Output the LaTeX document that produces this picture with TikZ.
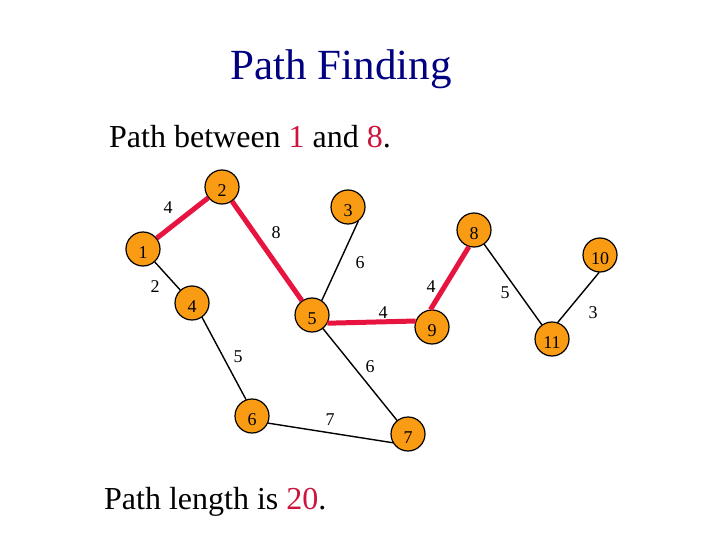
\documentclass[tikz,border=0pt]{standalone}
\usepackage{fontspec}
\setmainfont{Liberation Serif}
\definecolor{navyt}{RGB}{0,0,128}
\definecolor{redt}{RGB}{204,20,60}
\definecolor{rede}{RGB}{232,20,64}
\definecolor{orangen}{RGB}{250,155,20}
\tikzset{
  vert/.style={circle, draw=black, line width=1.2pt, fill=orangen, minimum size=34pt, inner sep=0pt, font=\fontsize{18}{18}\selectfont, outer sep=0.5pt, text height=19pt, text depth=0pt},
  edge/.style={draw=black, line width=1.4pt},
  pathedge/.style={draw=rede, line width=5pt},
  wlab/.style={font=\fontsize{18}{18}\selectfont, inner sep=0pt}
}
\begin{document}
\begin{tikzpicture}[x=1pt,y=-1pt]
\useasboundingbox (0,0) rectangle (720,540);
\fill[white] (0,0) rectangle (720,540);
\node[anchor=base, text=navyt, font=\fontsize{43}{43}\selectfont, inner sep=0pt] (title) at (341,80) {Path Finding};
\node[anchor=base west, font=\fontsize{32}{32}\selectfont, inner sep=0pt] (sub) at (109,148) {Path between \textcolor{redt}{1} and \textcolor{redt}{8}.};
\node[anchor=base west, font=\fontsize{32}{32}\selectfont, inner sep=0pt] (len) at (104,509) {Path length is \textcolor{redt}{20}.};

\node[vert] (n1) at (143,249) {1};
\node[vert] (n2) at (222,187) {2};
\node[vert] (n3) at (348,207) {3};
\node[vert] (n4) at (192,303) {4};
\node[vert] (n5) at (312,315) {5};
\node[vert] (n6) at (252,416) {6};
\node[vert] (n7) at (408,434) {7};
\node[vert] (n8) at (474,230) {8};
\node[vert] (n9) at (432,327) {9};
\node[vert] (n10) at (600,255) {10};
\node[vert] (n11) at (552,339) {11};

\path[pathedge] (n1) -- (n2);
\path[pathedge] (n2) -- (n5);
\path[pathedge] (n5.-28) -- (n9.160);
\path[pathedge] (n9.95) -- (n8.-107);
\path[edge] (n1) -- (n4);
\path[edge] (n3.-54) -- (n5.56);
\path[edge] (n4.-55) -- (n6.110);
\path[edge] (n5) -- (n7);
\path[edge] (n6.-24) -- (n7.-150);
\path[edge] (n8) -- (n11);
\path[edge] (n10.-93) -- (n11.71);

\node[wlab] (w12) at (168,208) {4};
\node[wlab] (w25) at (276,233) {8};
\node[wlab] (w35) at (360,263) {6};
\node[wlab] (w14) at (155,287) {2};
\node[wlab] (w59) at (383,313) {4};
\node[wlab] (w98) at (431,287) {4};
\node[wlab] (w811) at (505,293) {5};
\node[wlab] (w1011) at (593,313) {3};
\node[wlab] (w46) at (238,357) {5};
\node[wlab] (w57) at (370,367) {6};
\node[wlab] (w67) at (330,420) {7};
\end{tikzpicture}
\end{document}
